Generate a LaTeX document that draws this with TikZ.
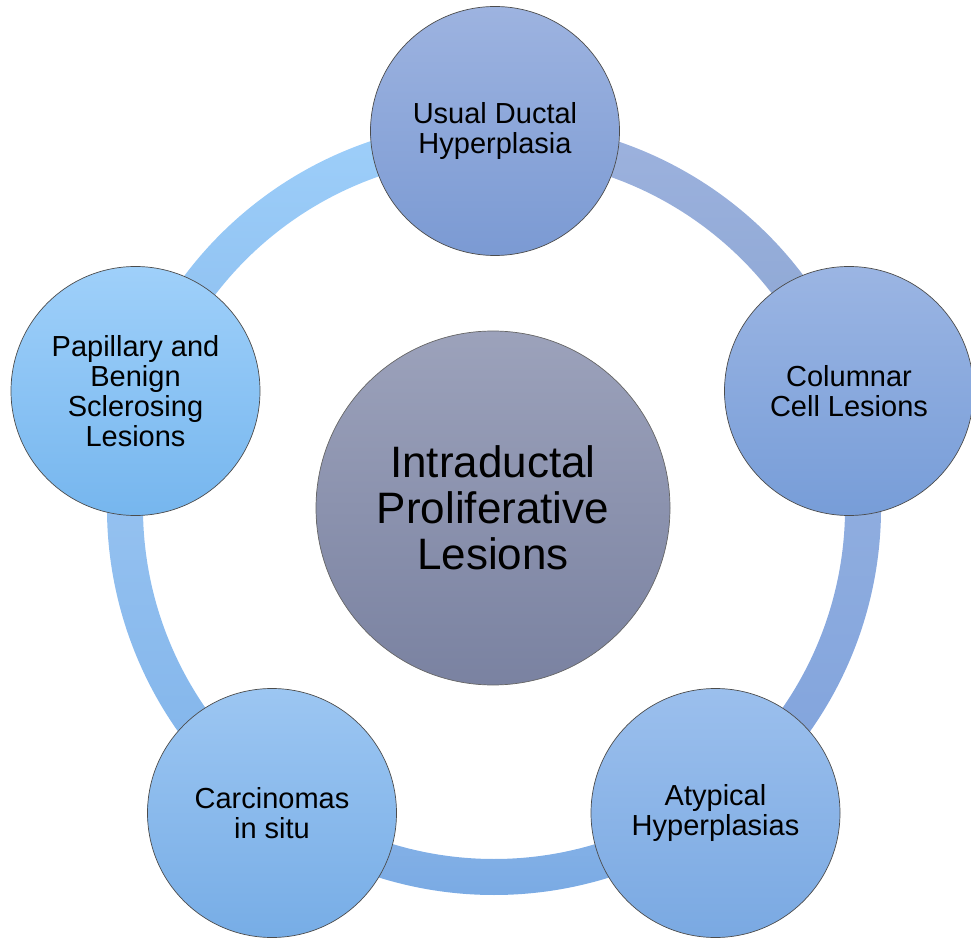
\documentclass[tikz,border=0pt]{standalone}
\usepackage{fontspec}
\setmainfont{Liberation Sans}
\begin{document}
\begin{tikzpicture}[
  outer/.style={circle, draw=black!70, line width=0.7pt, minimum size=249pt, inner sep=0pt,
    align=center, font=\fontsize{29}{30}\selectfont},
  hub/.style={circle, draw=black!60, line width=0.7pt, minimum size=354pt, inner sep=0pt,
    align=center, font=\fontsize{44}{46}\selectfont},
]
\useasboundingbox (0pt,0pt) rectangle (971pt,938pt);
\coordinate (rc) at (494pt,430pt);
\def\rout{387pt}\def\rin{351pt}
% ring segments
\newcommand{\ringseg}[4]{%
  \path[top color=#3, bottom color=#4]
    ([shift={(rc)}]#1:\rout) arc[start angle=#1, end angle=#2, radius=\rout]
    -- ([shift={(rc)}]#2:\rin) arc[start angle=#2, end angle=#1, radius=\rin] -- cycle;}
\definecolor{sA1}{HTML}{9ECFFA}\definecolor{sA2}{HTML}{8BBDEE}
\definecolor{sB1}{HTML}{9DB2DE}\definecolor{sB2}{HTML}{8AA5D2}
\definecolor{sC1}{HTML}{95B1E0}\definecolor{sC2}{HTML}{7FA2DC}
\definecolor{sD1}{HTML}{8BB5E8}\definecolor{sD2}{HTML}{76A8E3}
\definecolor{sE1}{HTML}{9CC6F2}\definecolor{sE2}{HTML}{7FB3EA}
\ringseg{162}{90}{sA1}{sA2}
\ringseg{90}{18}{sB1}{sB2}
\ringseg{18}{-54}{sC1}{sC2}
\ringseg{-54}{-126}{sD1}{sD2}
\ringseg{-126}{-198}{sE1}{sE2}
% circles
\definecolor{cT1}{HTML}{9DB3E0}\definecolor{cT2}{HTML}{7B9AD3}
\definecolor{cR1}{HTML}{9BB5E3}\definecolor{cR2}{HTML}{779DD8}
\definecolor{cA1}{HTML}{9BBFED}\definecolor{cA2}{HTML}{7AA9E2}
\definecolor{cC1}{HTML}{9CC6F2}\definecolor{cC2}{HTML}{77ADE6}
\definecolor{cP1}{HTML}{9FD0FA}\definecolor{cP2}{HTML}{76B6EE}
\definecolor{cH1}{HTML}{9CA2BB}\definecolor{cH2}{HTML}{7A82A1}
\node[hub, top color=cH1, bottom color=cH2] (hub) at (493pt,430pt) {Intraductal\\Proliferative\\Lesions};
\node[outer, top color=cT1, bottom color=cT2] (udh) at (495pt,807pt) {Usual Ductal\\Hyperplasia};
\node[outer, top color=cR1, bottom color=cR2] (ccl) at (849pt,547pt) {Columnar\\Cell Lesions};
\node[outer, top color=cA1, bottom color=cA2] (ah) at (715.5pt,125pt) {Atypical\\Hyperplasias};
\node[outer, top color=cC1, bottom color=cC2] (cis) at (272pt,125pt) {Carcinomas\\in situ};
\node[outer, top color=cP1, bottom color=cP2] (pap) at (135.5pt,547pt) {Papillary and\\Benign\\Sclerosing\\Lesions};
\end{tikzpicture}
\end{document}
